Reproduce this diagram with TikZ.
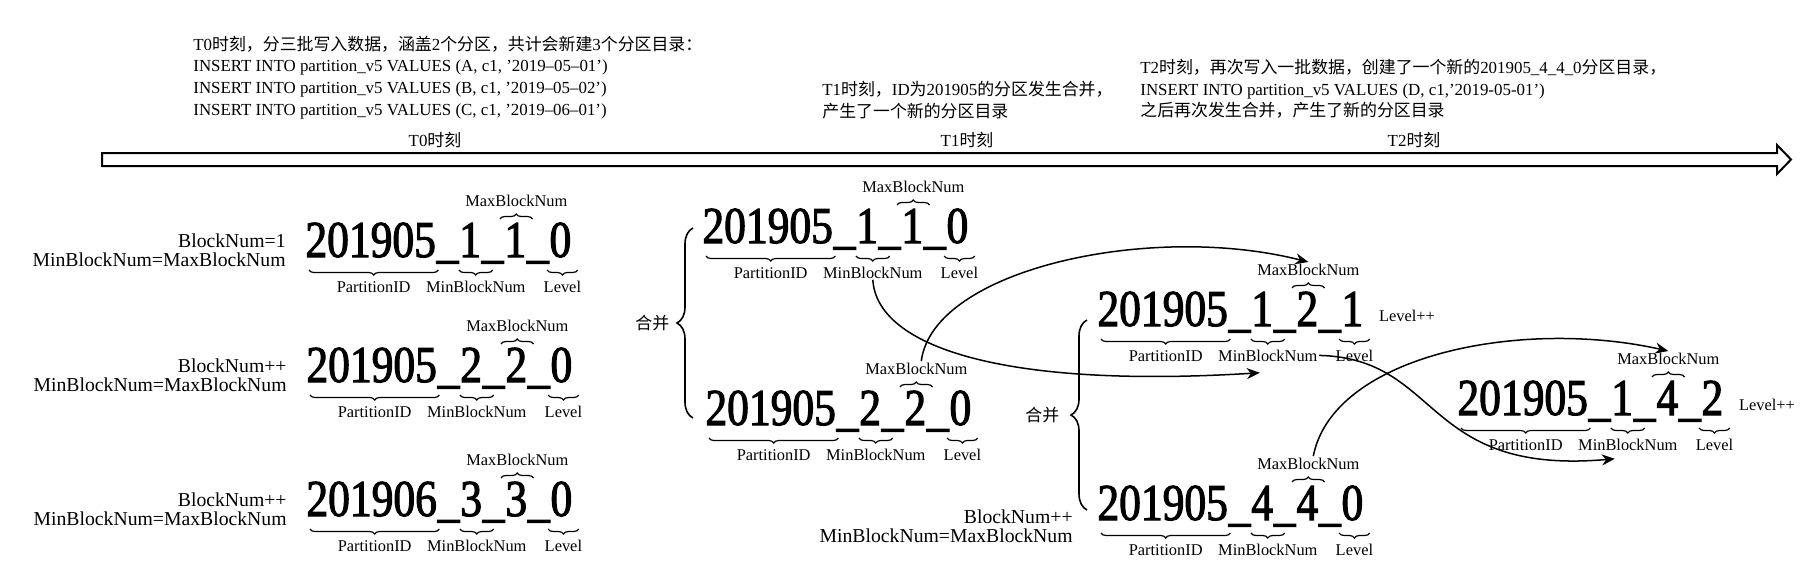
\documentclass[tikz,border=0pt]{standalone}
\usepackage{fontspec}
\setmainfont{Liberation Serif}
\newfontfamily\zhfont{Noto Sans CJK SC}
\newfontfamily\numfont{Liberation Serif}[FakeStretch=0.84, FakeBold=2]
\usetikzlibrary{arrows.meta, positioning, decorations.pathreplacing}

\newcommand\zh[1]{{\zhfont #1}}

% one directory name: prefix, base point, partition id, min, max, level
\newcommand\partdir[6]{
  \node[bignum, anchor=base west]         (#1-p)   at (#2) {#3};
  \node[bignum, base right=0pt of #1-p]   (#1-u1)  {\_};
  \node[bignum, base right=0pt of #1-u1]  (#1-min) {#4};
  \node[bignum, base right=0pt of #1-min] (#1-u2)  {\_};
  \node[bignum, base right=0pt of #1-u2]  (#1-max) {#5};
  \node[bignum, base right=0pt of #1-max] (#1-u3)  {\_};
  \node[bignum, base right=0pt of #1-u3]  (#1-lv)  {#6};
  \draw[brcdown] ([xshift=2pt,yshift=-6.5pt]#1-p.base west) -- ([xshift=1pt,yshift=-6.5pt]#1-p.base east)
    node[lbl, midway, yshift=-11pt] (#1-idl) {PartitionID};
  \draw[brcdown] ([yshift=-6.5pt]#1-min.base west) -- ([yshift=-6.5pt]#1-u2.base)
    node[lbl, midway, yshift=-11pt] (#1-minl) {MinBlockNum};
  \draw[brcdown] ([xshift=-1pt,yshift=-6.5pt]#1-lv.base west) -- ([xshift=3pt,yshift=-6.5pt]#1-lv.base east)
    node[lbl, midway, yshift=-11pt] (#1-lvl) {Level};
  \draw[brcup] ([xshift=-2pt,yshift=19pt]#1-max.base west) -- ([xshift=3pt,yshift=19pt]#1-max.base east)
    node[lbl, midway, yshift=6.5pt] (#1-maxl) {MaxBlockNum};
}

\begin{document}
\begin{tikzpicture}[x=0.5pt, y=-0.5pt,
  bignum/.style={inner sep=0pt, font=\numfont\fontsize{25.9}{28}\selectfont},
  lbl/.style={inner sep=0.5pt, anchor=base, font=\fontsize{8.2}{9}\selectfont},
  brcdown/.style={decorate, decoration={brace, mirror, amplitude=2.5pt}, line width=0.6pt},
  brcup/.style={decorate, decoration={brace, amplitude=2.5pt}, line width=0.6pt},
  merge/.style={decorate, decoration={brace, amplitude=8pt}, line width=0.8pt},
  note/.style={inner sep=0pt, align=left, font=\fontsize{8.45}{10.8}\selectfont},
  side/.style={inner sep=0pt, align=right, anchor=east, font=\fontsize{9.85}{9.5}\selectfont},
  flow/.style={-{Stealth[length=6.5pt,width=5.5pt]}, line width=0.75pt}]

  \useasboundingbox (0,0) rectangle (1808,579);

  % time line
  \draw[line width=1pt] (102,153) -- (1777,153) -- (1777,145) -- (1791,159.5)
    -- (1777,174) -- (1777,166) -- (102,166) -- cycle;

  \node[note, anchor=south west] (t0-note) at (193,119)
    {T0\zh{时刻，分三批写入数据，涵盖}2\zh{个分区，共计会新建}3\zh{个分区目录：}\\
     INSERT INTO partition\_v5 VALUES (A, c1, '2019--05--01')\\
     INSERT INTO partition\_v5 VALUES (B, c1, '2019--05--02')\\
     INSERT INTO partition\_v5 VALUES (C, c1, '2019--06--01')};
  \node[note, anchor=south west] (t1-note) at (822,119)
    {T1\zh{时刻，}ID\zh{为}201905\zh{的分区发生合并，}\\
     \zh{产生了一个新的分区目录}};
  \node[note, anchor=south west] (t2-note) at (1140,119)
    {T2\zh{时刻，再次写入一批数据，创建了一个新的}201905\_4\_4\_0\zh{分区目录，}\\
     INSERT INTO partition\_v5 VALUES (D, c1,'2019-05-01')\\
     \zh{之后再次发生合并，产生了新的分区目录}};

  \node[note] (t0) at (435,140) {T0\zh{时刻}};
  \node[note] (t1) at (967,140) {T1\zh{时刻}};
  \node[note] (t2) at (1414,140) {T2\zh{时刻}};

  % T0
  \partdir{L1}{305,257}{201905}{1}{1}{0}
  \partdir{L2}{306,382}{201905}{2}{2}{0}
  \partdir{L3}{306,516}{201906}{3}{3}{0}
  \node[side] (L1-note) at ([xshift=-9.5pt,yshift=3.5pt]L1-p.base west) {BlockNum=1\\MinBlockNum=MaxBlockNum};
  \node[side] (L2-note) at ([xshift=-9.5pt,yshift=3.5pt]L2-p.base west) {BlockNum++\\MinBlockNum=MaxBlockNum};
  \node[side] (L3-note) at ([xshift=-9.5pt,yshift=3.5pt]L3-p.base west) {BlockNum++\\MinBlockNum=MaxBlockNum};

  % T1
  \partdir{A}{702,243}{201905}{1}{1}{0}
  \partdir{B}{705,425}{201905}{2}{2}{0}
  \draw[merge] ([xshift=-6pt,yshift=3.5pt]B-p.base west) -- ([xshift=-4.5pt,yshift=7.5pt]A-p.base west)
    node[note, midway, anchor=east, xshift=-11.5pt] (m1) {\zh{合并}};

  % T2
  \partdir{C}{1097,326}{201905}{1}{2}{1}
  \partdir{D}{1097,520}{201905}{4}{4}{0}
  \partdir{E}{1457,415}{201905}{1}{4}{2}
  \node[side] (D-note) at ([xshift=-12pt,yshift=-3pt]D-p.base west) {BlockNum++\\MinBlockNum=MaxBlockNum};
  \node[lbl, anchor=base west] (C-up) at ([xshift=7pt,yshift=2.5pt]C-lv.base east) {Level++};
  \node[lbl, anchor=base west] (E-up) at ([xshift=7pt,yshift=2.5pt]E-lv.base east) {Level++};
  \draw[merge] ([xshift=-5pt,yshift=5pt]D-p.base west) -- ([xshift=-5pt,yshift=3pt]C-p.base west)
    node[note, midway, anchor=east, xshift=-13.5pt] (m2) {\zh{合并}};

  \draw[flow] (A-minl.south) .. controls +(4,67) and +(-257,16) .. ([xshift=-4pt,yshift=-5pt]C-minl.south);
  \draw[flow] ([xshift=2.5pt]B-maxl.north) .. controls +(12,-92) and +(-157,-40) .. (C-maxl.north);
  \draw[flow] (C-minl.east) .. controls +(123,3) and +(-193,17) .. ([xshift=-6.5pt,yshift=-3.5pt]E-minl.south);
  \draw[flow] ([xshift=2.5pt]D-maxl.north) .. controls +(20,-101) and +(-147,-33) .. (E-maxl.north);
\end{tikzpicture}
\end{document}
